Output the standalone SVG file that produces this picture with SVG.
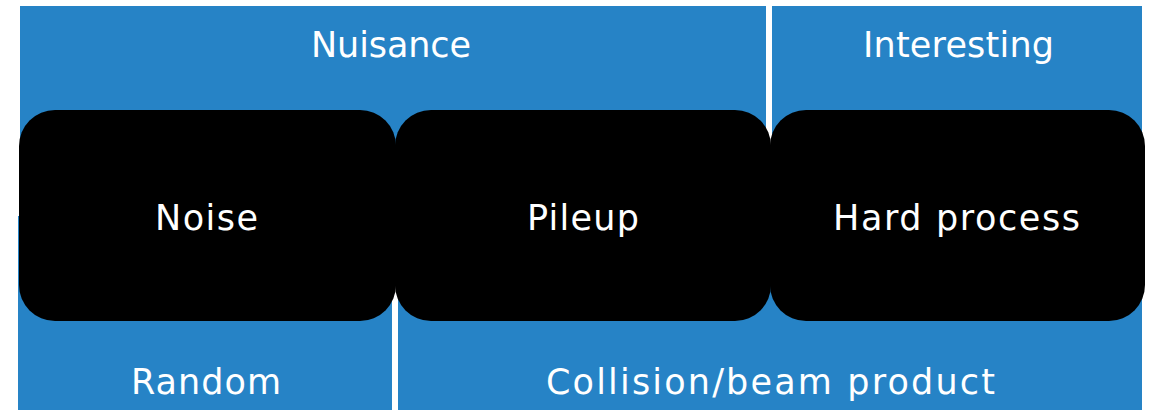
<svg xmlns="http://www.w3.org/2000/svg" width="1150" height="410" viewBox="0 0 1150 410">
  <style>
    .band { fill: #2683C6; }
    .box { fill: #000000; }
    .lbl { fill: #ffffff; font-family: "DejaVu Sans", Lato, sans-serif; font-size: 35px; text-anchor: middle; }
  </style>
  <rect x="0" y="0" width="1150" height="410" fill="#ffffff"/>

  <!-- category bands (run behind the boxes so the corners show blue) -->
  <g id="nuisance">
    <rect class="band" x="20" y="6" width="746" height="210"/>
    <text class="lbl" x="391" y="57" textLength="160" lengthAdjust="spacing">Nuisance</text>
  </g>
  <g id="interesting">
    <rect class="band" x="772" y="6" width="370" height="210"/>
    <text class="lbl" x="958.5" y="57" textLength="191" lengthAdjust="spacing">Interesting</text>
  </g>
  <g id="random">
    <rect class="band" x="18" y="216" width="374" height="194"/>
    <text class="lbl" x="206" y="394" textLength="150" lengthAdjust="spacing">Random</text>
  </g>
  <g id="collision">
    <rect class="band" x="398" y="216" width="744" height="194"/>
    <text class="lbl" x="770.5" y="394" textLength="449" lengthAdjust="spacing">Collision/beam product</text>
  </g>

  <!-- source boxes -->
  <g id="noise">
    <rect class="box" x="19" y="110" width="377" height="211" rx="36" ry="36"/>
    <text class="lbl" x="206.5" y="230" textLength="103" lengthAdjust="spacing">Noise</text>
  </g>
  <g id="pileup">
    <rect class="box" x="395" y="110" width="376" height="211" rx="36" ry="36"/>
    <text class="lbl" x="583" y="230" textLength="112" lengthAdjust="spacing">Pileup</text>
  </g>
  <g id="hard-process">
    <rect class="box" x="770" y="110" width="375" height="211" rx="36" ry="36"/>
    <text class="lbl" x="956.5" y="230" textLength="247" lengthAdjust="spacing">Hard process</text>
  </g>

  <g id="connectors"/>
</svg>
